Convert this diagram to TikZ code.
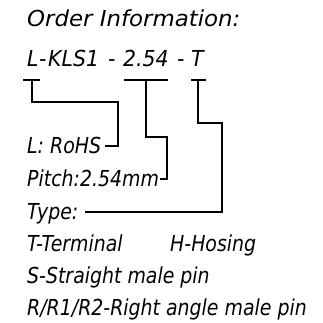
\documentclass[tikz,border=0pt]{standalone}
\usepackage{fontspec}
\setmainfont{DejaVu Sans}
\newfontfamily\isofont[FakeStretch=0.86]{DejaVu Sans}
\newfontfamily\titlefont[FakeStretch=1.04]{DejaVu Sans}
\newfontfamily\codefont[FakeStretch=0.93]{DejaVu Sans}
\usetikzlibrary{calc}
\tikzset{
  txt/.style={anchor=base west,inner sep=0pt,font=\isofont\fontsize{22}{26}\selectfont\itshape},
  ttl/.style={txt,font=\titlefont\fontsize{22}{26}\selectfont\itshape},
  code/.style={txt,font=\codefont\fontsize{22}{26}\selectfont\itshape},
  lead/.style={line width=2pt}
}
\begin{document}
\begin{tikzpicture}[x=1pt,y=-1pt]
  \useasboundingbox (0,0) rectangle (322,323);
  \node [ttl] (title) at (27,27) {Order Information:};
  % part number
  \node [code] (cL) at (27,67) {L};
  \node [code] (cd1) at (39,67) {-};
  \node [code] (cK) at (48,67) {KLS1};
  \node [code] (cd2) at (108,67) {-};
  \node [code] (cP) at (123,67) {2.54};
  \node [code] (cd3) at (177,67) {-};
  \node [code] (cT) at (191,67) {T};
  % explanations
  \node [txt] (rohs) at (27,153) {L: RoHS};
  \node [txt] (pitch) at (27,186) {Pitch:2.54mm};
  \node [txt] (type) at (27,219) {Type:};
  \node [txt] (term) at (27,251) {T-Terminal};
  \node [txt] (hos) at (170,251) {H-Hosing};
  \node [txt] (strt) at (27,283) {S-Straight male pin};
  \node [txt] (rang) at (27,315) {R/R1/R2-Right angle male pin};
  % bars under the code
  \draw [lead] ($(cL.base west)+(-4,13)$) -- ($(cL.base east)+(1,13)$);
  \draw [lead] ($(cP.base west)+(1,13)$) -- ($(cP.base east)+(-1,13)$);
  \draw [lead] ($(cT.base west)+(0,13)$) -- ($(cT.base east)+(2,13)$);
  % leaders
  \coordinate (kL) at (118,102);
  \coordinate (kP) at (167,137);
  \coordinate (kT) at (222,123);
  \draw [lead] ($(cL.base)+(-1,13)$) |- (kL) |- ($(rohs.base east)+(4,-7)$);
  \draw [lead] ($(cP.base)+(0,13)$) |- (kP) |- ($(pitch.base east)+(1,-7)$);
  \draw [lead] ($(cT.base)+(1,13)$) |- (kT) |- ($(type.base east)+(6,-7)$);
\end{tikzpicture}
\end{document}
